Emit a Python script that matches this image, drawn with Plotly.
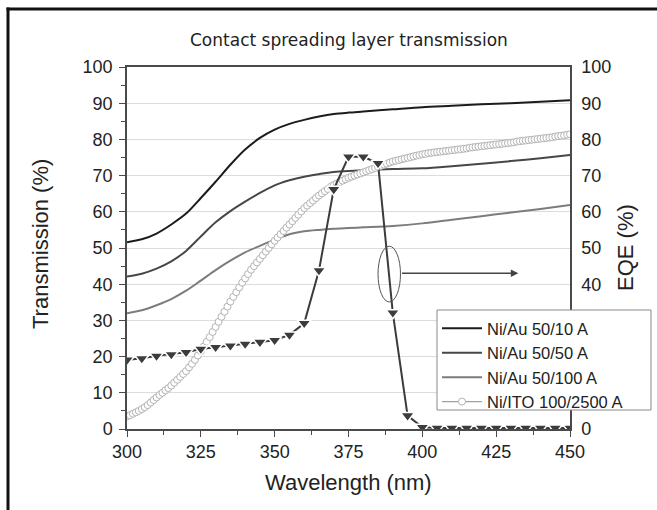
import plotly.graph_objects as go

# ---------------- data ----------------
wl_t = [300, 305, 310, 315, 320, 325, 330, 335, 340, 345, 350, 355, 360, 365, 370,
        375, 380, 390, 400, 410, 420, 430, 440, 450]
t_au_50_10 = [51.6, 52.4, 54.0, 56.5, 59.5, 63.8, 68.3, 73.0, 77.2, 80.4, 82.7, 84.3, 85.4,
              86.3, 87.0, 87.4, 87.7, 88.3, 88.9, 89.3, 89.7, 90.0, 90.4, 90.8]
t_au_50_50 = [42.1, 42.9, 44.3, 46.3, 49.2, 53.2, 57.1, 60.2, 62.8, 65.2, 67.3, 68.7, 69.7,
              70.4, 71.0, 71.3, 71.5, 71.8, 72.0, 72.6, 73.3, 74.0, 74.8, 75.7]
t_au_50_100 = [32.0, 32.8, 34.2, 35.9, 38.2, 41.0, 43.9, 46.5, 48.8, 50.6, 52.3, 53.8, 54.6,
               55.0, 55.3, 55.5, 55.7, 56.1, 56.8, 57.8, 58.8, 59.8, 60.8, 61.9]

wl_ito = list(range(300, 451))
t_ito = [
    3.5, 3.8, 4.2, 4.6, 5.0, 5.5, 6.0, 6.6, 7.3, 8.0, 8.7,
    9.4, 10.0, 10.7, 11.3, 12.0, 12.8, 13.6, 14.4, 15.2, 16.0,
    17.0, 18.0, 19.1, 20.3, 21.5, 22.8, 24.1, 25.4, 26.8, 28.2,
    29.6, 31.0, 32.4, 33.8, 35.2, 36.5, 37.8, 39.1, 40.4, 41.6,
    42.8, 44.0, 45.0, 46.0, 47.0, 48.0, 49.0, 50.0, 51.0, 52.0,
    52.9, 53.8, 54.7, 55.6, 56.5, 57.4, 58.3, 59.2, 60.1, 61.0,
    61.7, 62.4, 63.1, 63.8, 64.5, 65.1, 65.7, 66.3, 66.9, 67.4,
    67.8, 68.2, 68.6, 69.0, 69.4, 69.7, 70.0, 70.3, 70.6, 70.9,
    71.2, 71.5, 71.8, 72.1, 72.4, 72.7, 73.0, 73.3, 73.6, 73.9,
    74.1, 74.3, 74.5, 74.7, 74.9, 75.1, 75.3, 75.5, 75.7, 75.9,
    76.0, 76.2, 76.3, 76.4, 76.5, 76.6, 76.7, 76.8, 76.9, 77.0,
    77.1, 77.2, 77.3, 77.4, 77.5, 77.7, 77.8, 77.9, 78.0, 78.1,
    78.2, 78.3, 78.4, 78.5, 78.6, 78.7, 78.8, 78.9, 79.0, 79.1,
    79.2, 79.4, 79.5, 79.6, 79.7, 79.8, 79.9, 80.0, 80.1, 80.2,
    80.3, 80.4, 80.5, 80.6, 80.8, 80.9, 81.0, 81.1, 81.3, 81.4,
]

wl_eqe = [300, 305, 310, 315, 320, 325, 330, 335, 340, 345, 350, 355, 360, 365, 370, 375,
          380, 385, 390, 395, 400, 405, 410, 415, 420, 425, 430, 435, 440, 445, 450]
eqe = [19.1, 19.5, 20.2, 20.6, 21.2, 22.1, 22.6, 23.0, 23.5, 24.0, 24.5, 26.0, 29.2, 43.8,
       66.2, 75.2, 75.2, 73.4, 32.1, 3.7, 0.5, 0.3, 0.3, 0.3, 0.3, 0.3, 0.3, 0.3, 0.3, 0.3, 0.3]

names = ["Ni/Au 50/10 A", "Ni/Au 50/50 A", "Ni/Au 50/100 A", "Ni/ITO 100/2500 A"]
x_ticks = [300, 325, 350, 375, 400, 425, 450]
y2_ticks = [0, 40, 50, 60, 70, 80, 90, 100]  # right labels 10-30 are hidden by the legend

# ---------------- figure ----------------
L, R, T, B, W, H = 127, 87, 67, 81, 657, 510
pw, ph = W - L - R, H - T - B


def px(xp):
    return (xp - L) / pw


def py(yp):
    return (H - B - yp) / ph


FONT = "Liberation Sans, Arial, sans-serif"
fig = go.Figure()

for ys, nm, col in [(t_au_50_10, names[0], "#1c1c1c"),
                    (t_au_50_50, names[1], "#474747"),
                    (t_au_50_100, names[2], "#7c7c7c")]:
    fig.add_trace(go.Scatter(x=wl_t, y=ys, name=nm, mode="lines",
                             line=dict(color=col, width=2, shape="spline", smoothing=0.8)))

fig.add_trace(go.Scatter(x=wl_ito, y=t_ito, name=names[3], mode="lines+markers",
                         line=dict(color="#a0a0a0", width=1.2),
                         marker=dict(symbol="circle", size=7, color="white",
                                     line=dict(color="#b3b3b3", width=1))))

fig.add_trace(go.Scatter(x=wl_eqe, y=eqe, name="EQE", mode="lines+markers", yaxis="y2",
                         showlegend=False,
                         line=dict(color="#3c3c3c", width=2),
                         marker=dict(symbol="triangle-down", size=12, color="#3c3c3c",
                                     line=dict(color="white", width=1.5))))

axis_line = "#4a4a4a"
fig.update_layout(
    width=W, height=H,
    margin=dict(l=L, r=R, t=T, b=B, pad=0),
    paper_bgcolor="white", plot_bgcolor="white",
    font=dict(family=FONT, color="#222"),
    xaxis=dict(range=[300, 450], tickvals=x_ticks, ticks="outside", ticklen=6, tickwidth=1.2,
               tickcolor=axis_line, showline=True, linecolor=axis_line, linewidth=1.5,
               mirror=True, showgrid=False, zeroline=False,
               tickfont=dict(size=18, family=FONT, color="#222"),
               minor=dict(dtick=12.5, tick0=300, ticks="outside", ticklen=4, tickcolor=axis_line)),
    yaxis=dict(range=[0, 100], dtick=10, ticks="outside", ticklen=6, tickwidth=1.2,
               tickcolor=axis_line, showline=True, linecolor=axis_line, linewidth=1.5,
               showgrid=True, gridcolor="#dcdcdc", gridwidth=1, zeroline=False,
               ticklabelstandoff=3,
               tickfont=dict(size=18, family=FONT, color="#222"),
               minor=dict(dtick=5, ticks="outside", ticklen=4, tickcolor=axis_line,
                          showgrid=False)),
    yaxis2=dict(range=[0, 100], tickvals=y2_ticks, overlaying="y", side="right",
                ticks="outside", ticklen=6, tickcolor="rgba(0,0,0,0)", showline=True,
                linecolor=axis_line, linewidth=1.5, showgrid=False, zeroline=False,
                tickfont=dict(size=18, family=FONT, color="#222")),
    legend=dict(x=px(437), y=py(311), xanchor="left", yanchor="top",
                bgcolor="rgba(0,0,0,0)", borderwidth=0,
                font=dict(size=16.5, family=FONT, color="#222"),
                tracegroupgap=0, itemwidth=40),
    showlegend=True,
)

# legend frame (white box covering the right axis, as in the original)
fig.add_shape(type="rect", xref="paper", yref="paper", layer="above",
              x0=px(437), x1=px(651), y0=py(410), y1=py(310),
              fillcolor="white", line=dict(color="#8a8a8a", width=1))

# ellipse and arrow
fig.add_shape(type="circle", xref="x", yref="y", x0=385, x1=392.6, y0=35.1, y1=50.5,
              line=dict(color="#555", width=1))
fig.add_annotation(x=432.5, y=43, ax=392.6, ay=43, xref="x", yref="y", axref="x", ayref="y",
                   text="", showarrow=True, arrowhead=2, arrowsize=1, arrowwidth=1.5,
                   arrowcolor="#444")

# titles
common = dict(xref="paper", yref="paper", showarrow=False, xanchor="center", yanchor="middle")
fig.add_annotation(text="Contact spreading layer transmission", x=0.5, y=py(40),
                   font=dict(size=17, family="DejaVu Sans, sans-serif", color="#222"), **common)
fig.add_annotation(text="Wavelength (nm)", x=0.5, y=py(482),
                   font=dict(size=22, family=FONT, color="#222"), **common)
fig.add_annotation(text="Transmission (%)", x=px(40), y=py(244), textangle=-90,
                   font=dict(size=22, family=FONT, color="#222"), **common)
fig.add_annotation(text="EQE (%)", x=px(625), y=py(248), textangle=-90,
                   font=dict(size=22, family=FONT, color="#222"), **common)

# outer frame (left and top edges)
fig.add_shape(type="line", xref="paper", yref="paper", x0=px(8), x1=px(8), y0=py(7.5), y1=py(515),
              line=dict(color="#111", width=3))
fig.add_shape(type="line", xref="paper", yref="paper", x0=px(6.5), x1=px(665), y0=py(9), y1=py(9),
              line=dict(color="#111", width=3))

fig.write_html("out.html", config={"displayModeBar": False},
               post_script="document.body.style.margin='0px';")
